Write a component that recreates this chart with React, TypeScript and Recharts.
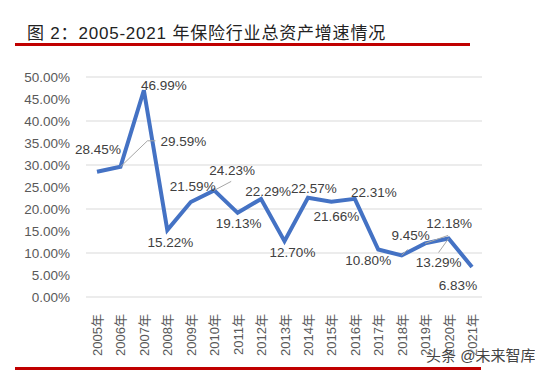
import React from 'react';
import { LineChart, Line, XAxis, YAxis, CartesianGrid, LabelList } from 'recharts';

const years = ['2005年', '2006年', '2007年', '2008年', '2009年', '2010年', '2011年', '2012年', '2013年', '2014年', '2015年', '2016年', '2017年', '2018年', '2019年', '2020年', '2021年'];
const growth = [28.45, 29.59, 46.99, 15.22, 21.59, 24.23, 19.13, 22.29, 12.7, 22.57, 21.66, 22.31, 10.8, 9.45, 12.18, 13.29, 6.83];
const yTicks = [0, 5, 10, 15, 20, 25, 30, 35, 40, 45, 50];

const data = years.map((year, i) => ({ year, value: growth[i] }));

// label placement relative to each point (dx, dy) plus optional leader line
const labelPlacement: { dx: number; dy: number; leader?: number[][] }[] = [
  { dx: 1, dy: -22 },
  { dx: 63, dy: -25, leader: [[27, -26], [35, -26]] },
  { dx: 20, dy: -5 },
  { dx: 3, dy: 12 },
  { dx: 2, dy: -16 },
  { dx: 18, dy: -20, leader: [[17, -9]] },
  { dx: 1, dy: 11 },
  { dx: 7, dy: -7 },
  { dx: 8, dy: 11 },
  { dx: 6, dy: -9 },
  { dx: 5, dy: 15 },
  { dx: 19, dy: -6 },
  { dx: -10, dy: 11 },
  { dx: 9, dy: -20, leader: [[6, -6]] },
  { dx: 24, dy: -20, leader: [[23, -8]] },
  { dx: -10, dy: 24, leader: [[-10, 14]] },
  { dx: -14, dy: 19 },
];

const font = '"Liberation Sans", "Noto Sans CJK SC", sans-serif';

const PointLabel = (props: any) => {
  const { x, y, index, value } = props;
  const p = labelPlacement[index];
  const pts = p.leader ? [[0, 0], ...p.leader].map(([a, b]) => `${x + a},${y + b}`).join(' ') : null;
  return (
    <g>
      {pts && <polyline points={pts} fill="none" stroke="#a6a6a6" strokeWidth={1} />}
      <text
        x={x + p.dx}
        y={y + p.dy}
        textAnchor="middle"
        dominantBaseline="central"
        fontSize={13.5}
        fontFamily={font}
        fill="#404040"
      >
        {value.toFixed(2)}%
      </text>
    </g>
  );
};

const YearTick = (props: any) => {
  const { x, y, payload } = props;
  return (
    <text
      transform={`translate(${x + 5},${y + 9}) rotate(-90)`}
      textAnchor="end"
      fontSize={13}
      fontFamily={font}
      fill="#595959"
    >
      {payload.value}
    </text>
  );
};

export default function App() {
  return (
    <div style={{ position: 'absolute', left: 0, top: 0, width: 535, height: 374, background: '#fff', overflow: 'hidden' }}>
      <div
        style={{
          position: 'absolute',
          left: 27,
          top: 19,
          fontSize: 17,
          fontFamily: font,
          color: '#222',
          whiteSpace: 'nowrap',
          letterSpacing: 0.8,
        }}
      >
        图 2：2005-2021 年保险行业总资产增速情况
      </div>
      <div style={{ position: 'absolute', left: 15, top: 43, width: 455, height: 3, background: '#c00000' }} />
      <LineChart width={535} height={374} data={data} margin={{ top: 77, right: 53, left: 0, bottom: 17 }}>
        <CartesianGrid vertical={false} stroke="#d9d9d9" strokeWidth={1} />
        <XAxis
          dataKey="year"
          axisLine={false}
          tickLine={false}
          interval={0}
          height={60}
          padding={{ left: 11, right: 10 }}
          tick={<YearTick />}
        />
        <YAxis
          domain={[0, 50]}
          ticks={yTicks}
          width={86}
          axisLine={false}
          tickLine={false}
          tickFormatter={(v: number) => `${v.toFixed(2)}%`}
          tick={{ fontSize: 13.5, fontFamily: font, fill: '#595959' }}
          tickMargin={10}
        />
        <Line
          type="linear"
          dataKey="value"
          stroke="#4472c4"
          strokeWidth={4}
          dot={false}
          isAnimationActive={false}
        >
          <LabelList dataKey="value" content={<PointLabel />} />
        </Line>
      </LineChart>
      <div style={{ position: 'absolute', left: 15, top: 367, width: 466, height: 3, background: '#c00000' }} />
      <div
        style={{
          position: 'absolute',
          left: 426,
          top: 344,
          fontSize: 15,
          fontFamily: font,
          color: '#444',
          whiteSpace: 'nowrap',
          textShadow: '0 0 2px #fff, 0 0 2px #fff',
        }}
      >
        头条 @未来智库
      </div>
    </div>
  );
}
